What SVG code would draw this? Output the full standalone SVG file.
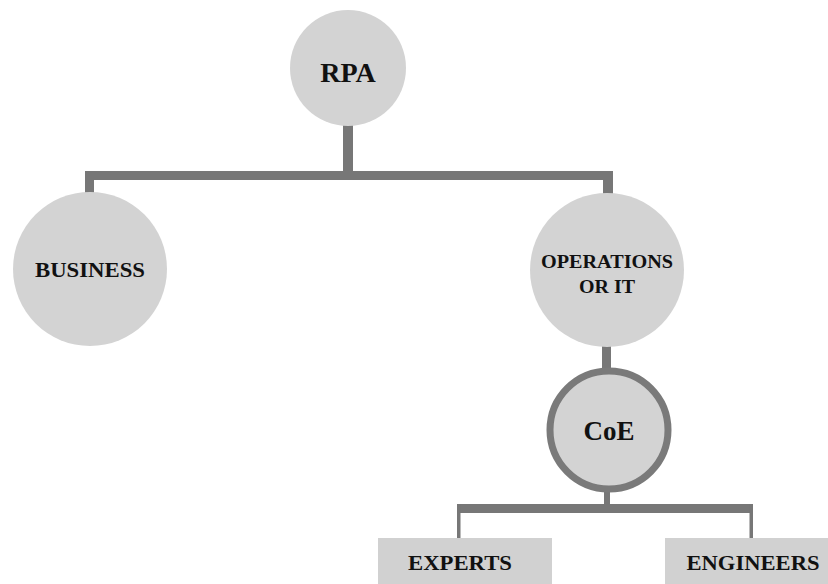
<svg xmlns="http://www.w3.org/2000/svg" width="828" height="584" viewBox="0 0 828 584">
<style>
.bar{fill:#777777}
.circ{fill:#d3d3d3}
.box{fill:#d1d1d1}
.t{font-family:"Liberation Serif","Times New Roman",serif;font-weight:bold;fill:#111;text-anchor:middle}
</style>
<rect width="828" height="584" fill="#ffffff"/>
<g id="connectors">
<rect class="bar" x="343" y="124" width="10" height="52"/>
<rect class="bar" x="85" y="171" width="528" height="9"/>
<rect class="bar" x="85" y="171" width="9" height="23"/>
<rect class="bar" x="603" y="171" width="10" height="23"/>
<rect class="bar" x="602" y="345" width="9" height="26"/>
<rect class="bar" x="604" y="490" width="6" height="18"/>
<rect class="bar" x="457" y="504" width="296" height="9"/>
<rect class="bar" x="457" y="504" width="3.5" height="36"/>
<rect class="bar" x="749.5" y="504" width="3.5" height="36"/>
</g>
<g id="rpa">
<circle class="circ" cx="348" cy="68" r="58"/>
<text class="t" x="348" y="82" font-size="28">RPA</text>
</g>
<g id="business">
<circle class="circ" cx="90" cy="269" r="77"/>
<text class="t" x="90" y="277" font-size="22" textLength="110" lengthAdjust="spacingAndGlyphs">BUSINESS</text>
</g>
<g id="operations">
<circle class="circ" cx="607" cy="270" r="77"/>
<text class="t" x="607" y="268" font-size="18" textLength="132" lengthAdjust="spacingAndGlyphs">OPERATIONS</text>
<text class="t" x="607" y="293" font-size="18" textLength="56" lengthAdjust="spacingAndGlyphs">OR IT</text>
</g>
<g id="coe">
<circle cx="609" cy="430" r="59" fill="#d3d3d3" stroke="#7a7a7a" stroke-width="7"/>
<text class="t" x="609" y="440" font-size="27">CoE</text>
</g>
<g id="experts">
<rect class="box" x="378" y="538" width="174" height="46"/>
<text class="t" x="460" y="570" font-size="22" textLength="104" lengthAdjust="spacingAndGlyphs">EXPERTS</text>
</g>
<g id="engineers">
<rect class="box" x="665" y="538" width="163" height="46"/>
<text class="t" x="753" y="570" font-size="22" textLength="133" lengthAdjust="spacingAndGlyphs">ENGINEERS</text>
</g>
</svg>
